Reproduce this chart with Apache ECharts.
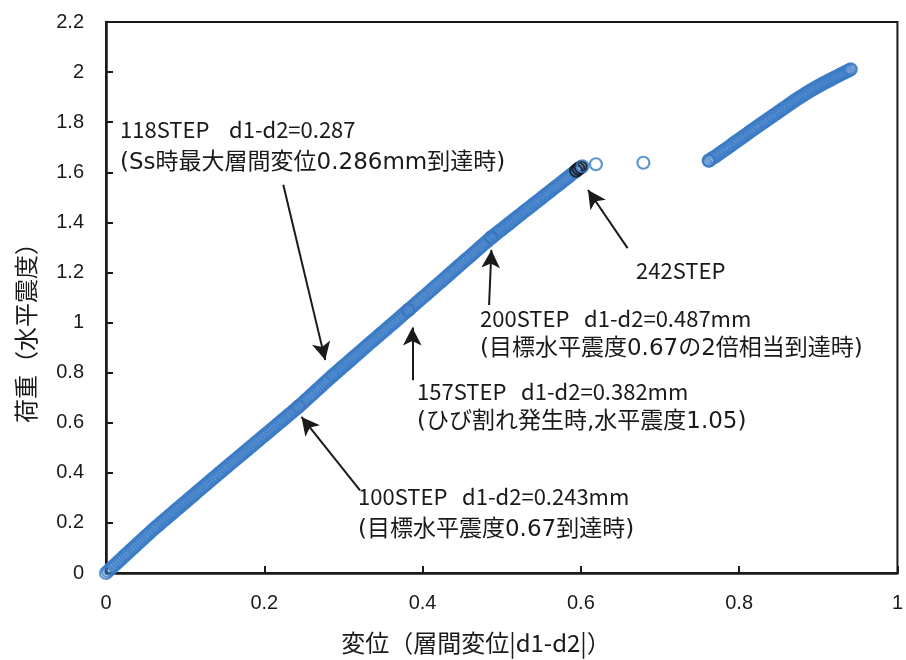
<!DOCTYPE html>
<html>
<head>
<meta charset="utf-8">
<script src="https://cdn.jsdelivr.net/npm/echarts@6/dist/echarts.min.js"></script>
<style>html,body{margin:0;padding:0;background:#fff;}#c{width:906px;height:660px;}</style>
</head>
<body>
<div id="c"></div>
<script>
// ---- data ----
// main loading branch (x: |d1-d2| mm, y: horizontal seismic coefficient)
const mainX = [0,0.0025,0.005,0.0075,0.01,0.0125,0.015,0.0175,0.02,0.0225,0.025,0.0275,0.03,0.0325,0.035,0.0375,0.04,0.0425,0.045,0.0475,0.05,0.0525,0.055,0.0575,0.06,
  0.0625,0.065,0.0675,0.07,0.0725,0.075,0.0775,0.08,0.0825,0.085,0.0875,0.09,0.0925,0.095,0.0975,0.1,0.1025,0.105,0.1075,0.11,0.1125,0.115,0.1175,0.12,0.1225,0.125,0.1275,0.13,0.1325,0.135,0.1375,0.14,
  0.1425,0.145,0.1475,0.15,0.1525,0.155,0.1575,0.16,0.1625,0.165,0.1675,0.17,0.1725,0.175,0.1775,0.18,0.1825,0.185,0.1875,0.19,0.1925,0.195,0.1975,0.2,
  0.2025,0.205,0.2075,0.21,0.2125,0.215,0.2175,0.22,0.2225,0.225,0.2275,0.23,0.2325,0.235,0.2375,0.24,
  0.2425,0.245,0.2475,0.25,0.2525,0.255,0.2575,0.26,0.2625,0.265,0.2675,0.27,0.2725,0.275,0.2775,0.28,0.2825,0.285,0.2875,
  0.29,0.2925,0.295,0.2975,0.3,0.3025,0.305,0.3075,0.31,0.3125,0.315,0.3175,0.32,0.3225,0.325,0.3275,0.33,0.3325,0.335,0.3375,0.34,
  0.3425,0.345,0.3475,0.35,0.3525,0.355,0.3575,0.36,0.3625,0.365,0.3675,0.37,0.3725,0.375,0.3775,0.38,0.3825,
  0.385,0.3875,0.39,0.3925,0.395,0.3975,0.4,0.4025,0.405,0.4075,0.41,0.4125,0.415,0.4175,0.42,0.4225,0.425,0.4275,0.43,0.4325,0.435,0.4375,0.44,
  0.4425,0.445,0.4475,0.45,0.4525,0.455,0.4575,0.46,0.4625,0.465,0.4675,0.47,0.4725,0.475,0.4775,0.48,0.4825,0.485,0.4875,
  0.49,0.4925,0.495,0.4975,0.5,0.5025,0.505,0.5075,0.51,0.5125,0.515,0.5175,0.52,0.5225,0.525,0.5275,0.53,0.5325,0.535,0.5375,0.54,
  0.5425,0.545,0.5475,0.55,0.5525,0.555,0.5575,0.56,0.5625,0.565,0.5675,0.57,0.5725,0.575,0.5775,0.58,0.5825,0.585,0.5875,0.59,0.5925,0.595,0.5975,0.6];
const mainY = [0,0.007,0.015,0.022,0.029,0.036,0.044,0.051,0.058,0.066,0.073,0.08,0.088,0.095,0.102,0.109,0.117,0.124,0.131,0.139,0.146,0.153,0.16,0.168,0.175,
  0.182,0.188,0.195,0.202,0.209,0.215,0.222,0.229,0.235,0.242,0.249,0.256,0.262,0.269,0.276,0.282,0.289,0.296,0.303,0.309,0.316,0.323,0.33,0.336,0.343,0.35,0.356,0.363,0.37,0.377,0.383,0.39,
  0.397,0.403,0.41,0.417,0.423,0.43,0.437,0.443,0.45,0.456,0.463,0.47,0.476,0.483,0.489,0.496,0.503,0.509,0.516,0.523,0.529,0.536,0.543,0.549,
  0.556,0.562,0.569,0.576,0.582,0.589,0.596,0.602,0.609,0.615,0.622,0.629,0.635,0.642,0.649,0.655,
  0.662,0.669,0.676,0.683,0.691,0.698,0.705,0.712,0.719,0.727,0.734,0.741,0.748,0.756,0.763,0.77,0.777,0.784,0.791,
  0.798,0.805,0.812,0.819,0.826,0.832,0.839,0.846,0.853,0.86,0.867,0.873,0.88,0.887,0.894,0.901,0.908,0.915,0.922,0.928,0.935,
  0.942,0.949,0.956,0.962,0.969,0.976,0.983,0.99,0.996,1.003,1.01,1.017,1.024,1.031,1.038,1.045,1.051,
  1.058,1.065,1.072,1.079,1.086,1.093,1.1,1.106,1.113,1.12,1.127,1.134,1.141,1.148,1.155,1.161,1.168,1.175,1.182,1.189,1.196,1.203,1.21,
  1.217,1.224,1.231,1.238,1.245,1.252,1.258,1.265,1.272,1.279,1.286,1.293,1.3,1.307,1.314,1.321,1.327,1.334,1.341,
  1.347,1.353,1.36,1.366,1.372,1.378,1.385,1.391,1.397,1.403,1.41,1.416,1.422,1.428,1.434,1.441,1.447,1.453,1.459,1.465,1.472,
  1.478,1.484,1.49,1.496,1.503,1.509,1.515,1.521,1.527,1.534,1.54,1.546,1.552,1.558,1.565,1.571,1.577,1.583,1.59,1.596,1.602,1.608,1.614,1.62];
// jumps after 242STEP
const jumpX = [0.602,0.619,0.679];
const jumpY = [1.624,1.632,1.638];
// upper branch
const upperX = [0.7615,0.762,0.7625,0.765,0.7675,0.77,0.7725,0.775,0.7775,0.78,0.7825,0.785,0.7875,0.79,0.7925,0.795,0.7975,0.8,
  0.8025,0.805,0.8075,0.81,0.8125,0.815,0.8175,0.82,0.8225,0.825,0.8275,0.83,0.8325,0.835,0.8375,0.84,0.8425,0.845,0.8475,0.85,
  0.8525,0.855,0.8575,0.86,0.8625,0.865,0.8675,0.87,0.8725,0.875,0.8775,0.88,0.8825,0.885,0.8875,0.89,0.8925,0.895,0.8975,0.9,
  0.9025,0.905,0.9075,0.91,0.9125,0.915,0.9175,0.92,0.9225,0.925,0.9275,0.93,0.9325,0.935,0.9375,0.94,0.941];
const upperY = [1.646,1.647,1.648,1.654,1.659,1.663,1.669,1.675,1.68,1.686,1.691,1.697,1.702,1.708,1.714,1.72,1.725,1.731,
  1.736,1.742,1.747,1.753,1.759,1.765,1.77,1.776,1.781,1.787,1.792,1.798,1.803,1.809,1.814,1.82,1.825,1.831,1.836,1.842,
  1.847,1.853,1.858,1.864,1.869,1.875,1.88,1.886,1.891,1.896,1.901,1.906,1.911,1.916,1.921,1.926,1.93,1.935,1.939,1.944,
  1.948,1.953,1.957,1.961,1.965,1.969,1.973,1.977,1.981,1.985,1.989,1.993,1.997,2.001,2.005,2.009,2.011];
// highlighted steps
const redX = [0.243]; const redY = [0.664];
const cyanX = [0.287]; const cyanY = [0.79];
const blackMidX = [0.382,0.487]; const blackMidY = [1.05,1.34];
const blackEndX = [0.594,0.597,0.6]; const blackEndY = [1.606,1.614,1.62];

const xTicks = ['0','0.2','0.4','0.6','0.8','1'];
const yTicks = ['0','0.2','0.4','0.6','0.8','1','1.2','1.4','1.6','1.8','2','2.2'];

// annotation arrows [x1,y1,x2,y2] in data units (tail -> head)
const arrows = [
  [0.224,1.55,0.277,0.85],
  [0.321,0.33,0.247,0.623],
  [0.387,0.77,0.387,0.98],
  [0.484,1.07,0.487,1.29],
  [0.659,1.297,0.609,1.529]
];
// [text, left, middle-y, kind]  kind 1 = heading line, 2 = parenthetical line
const notes = [
  ['118STEP    d1-d2=0.287',120,130,1],
  ['(Ss時最大層間変位0.286mm到達時)',120,163,2],
  ['242STEP',636,271,1],
  ['200STEP   d1-d2=0.487mm',480,319,1],
  ['(目標水平震度0.67の2倍相当到達時)',480,349,2],
  ['157STEP   d1-d2=0.382mm',417,392,1],
  ['(ひび割れ発生時,水平震度1.05)',417,422,2],
  ['100STEP   d1-d2=0.243mm',358,497,1],
  ['(目標水平震度0.67到達時)',358,530,2]
];

const zip = (a,b) => a.map((v,i)=>[v,b[i]]);
const BLUE = '#3a7bc6';
const FF = '"Noto Sans CJK JP", sans-serif';
const FF2 = '"DejaVu Sans", "Noto Sans CJK JP", sans-serif';
function ring(color){
  return {color:'rgba(0,0,0,0)', borderColor:color, borderWidth:2.2};
}
const SZ = 12;
const chart = echarts.init(document.getElementById('c'));
chart.setOption({
  animation:false,
  backgroundColor:'#fff',
  grid:{left:106,right:4,top:22,bottom:87,show:true,borderColor:'#1a1a1a',borderWidth:2},
  xAxis:{type:'value',min:0,max:1,interval:0.2,
    axisLine:{lineStyle:{color:'#1a1a1a',width:2.5}},
    axisTick:{inside:true,length:7,lineStyle:{color:'#1a1a1a',width:2}},
    splitLine:{show:false},
    axisLabel:{margin:20,fontSize:20,color:'#1a1a1a',fontFamily:'"Liberation Sans", sans-serif',
      formatter:(v)=>xTicks[Math.round(v/0.2)]}},
  yAxis:{type:'value',min:0,max:2.2,interval:0.2,
    axisLine:{lineStyle:{color:'#1a1a1a',width:2.5}},
    axisTick:{inside:true,length:7,lineStyle:{color:'#1a1a1a',width:2}},
    splitLine:{show:false},
    axisLabel:{margin:22,fontSize:20,color:'#1a1a1a',fontFamily:'"Liberation Sans", sans-serif',
      formatter:(v)=>yTicks[Math.round(v/0.2)]}},
  series:[
    {type:'scatter',data:zip(redX,redY),symbol:'circle',symbolSize:SZ,itemStyle:ring('#e0302c')},
    {type:'scatter',data:zip(cyanX,cyanY),symbol:'circle',symbolSize:SZ,itemStyle:ring('#35c0e8')},
    {type:'scatter',data:zip(blackMidX,blackMidY),symbol:'circle',symbolSize:SZ,itemStyle:ring('#111')},
    {type:'scatter',data:zip(mainX,mainY),symbol:'circle',symbolSize:SZ,itemStyle:ring(BLUE)},
    {type:'scatter',data:zip(blackEndX,blackEndY),symbol:'circle',symbolSize:SZ,itemStyle:ring('#111')},
    {type:'scatter',data:zip(jumpX,jumpY),symbol:'circle',symbolSize:SZ,itemStyle:ring(BLUE)},
    {type:'scatter',data:zip(upperX,upperY),symbol:'circle',symbolSize:SZ,itemStyle:ring(BLUE)},
    {type:'scatter',data:[],
      markLine:{silent:true,symbol:['none','arrow'],symbolSize:[14,18],
        label:{show:false},
        lineStyle:{color:'#1a1a1a',width:2,type:'solid'},
        data:arrows.map(a=>[{coord:[a[0],a[1]]},{coord:[a[2],a[3]]}])}}
  ],
  graphic:[
    ...notes.map(n=>({type:'text',x:n[1],y:n[2],
      style:{text:n[0],fill:'#1a1a1a',fontSize:n[3]===1?22:23,fontFamily:n[3]===1?FF:FF2,align:'left',verticalAlign:'middle'}})),
    {type:'text',x:476,y:643,style:{text:'変位（層間変位|d1-d2|）',fill:'#1a1a1a',fontSize:24,fontFamily:FF,align:'center',verticalAlign:'middle'}},
    {type:'text',x:26,y:327,rotation:Math.PI/2,style:{text:'荷重（水平震度）',fill:'#1a1a1a',fontSize:24,fontFamily:FF,align:'center',verticalAlign:'middle'}}
  ]
});
</script>
</body>
</html>
